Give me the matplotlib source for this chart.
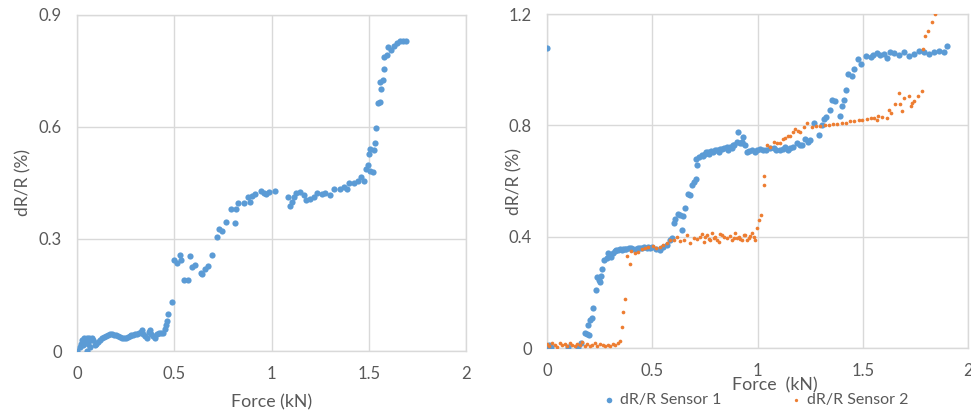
import matplotlib.pyplot as plt

plt.rcParams['font.family'] = ['Lato', 'DejaVu Sans']

blue = '#5B9BD5'
orange = '#ED7D31'
text_gray = '#595959'
grid_gray = '#D9D9D9'

#Left chart: single sensor
force_a = [0, 0.015, 0.02, 0.025, 0.03, 0.035, 0.04, 0.045, 0.05, 0.05, 0.055, 0.06, 0.065, 0.07,
           0.075, 0.08, 0.09, 0.1, 0.11, 0.12, 0.13, 0.14, 0.15, 0.16, 0.17, 0.18, 0.19, 0.2,
           0.21, 0.22, 0.23, 0.24, 0.25, 0.26, 0.27, 0.28, 0.29, 0.3, 0.31, 0.32, 0.33, 0.335,
           0.34, 0.35, 0.36, 0.37, 0.375, 0.38, 0.39, 0.4, 0.41, 0.42, 0.43, 0.44, 0.45, 0.46,
           0.465, 0.47, 0.487, 0.5, 0.515, 0.527, 0.537, 0.55, 0.57, 0.58, 0.59, 0.605, 0.635,
           0.645, 0.66, 0.675, 0.696, 0.72, 0.73, 0.745, 0.765, 0.79, 0.81, 0.818, 0.83, 0.857,
           0.878, 0.888, 0.9, 0.917, 0.946, 0.96, 0.97, 0.987, 1.018, 1.083, 1.095, 1.107, 1.117,
           1.128, 1.148, 1.165, 1.177, 1.2, 1.216, 1.233, 1.258, 1.276, 1.298, 1.32, 1.35, 1.37,
           1.387, 1.4, 1.425, 1.442, 1.459, 1.473, 1.487, 1.497, 1.507, 1.521, 1.503, 1.507,
           1.528, 1.533, 1.538, 1.545, 1.555, 1.558, 1.563, 1.572, 1.58, 1.58, 1.593, 1.598,
           1.613, 1.627, 1.644, 1.661, 1.678, 1.692]
drr_a = [0, 0.01, 0.02, 0.03, 0.015, 0.035, 0.025, 0.03, 0.035, 0.0, 0.02, 0.035, 0.01, 0.03,
         0.035, 0.03, 0.015, 0.02, 0.025, 0.03, 0.035, 0.038, 0.04, 0.042, 0.045, 0.045, 0.043,
         0.042, 0.04, 0.038, 0.036, 0.035, 0.036, 0.038, 0.04, 0.042, 0.043, 0.045, 0.045,
         0.047, 0.05, 0.055, 0.045, 0.04, 0.035, 0.05, 0.055, 0.045, 0.04, 0.035, 0.045, 0.048,
         0.048, 0.048, 0.06, 0.07, 0.08, 0.1, 0.13, 0.245, 0.235, 0.257, 0.245, 0.19, 0.19,
         0.255, 0.225, 0.23, 0.21, 0.205, 0.22, 0.228, 0.256, 0.306, 0.328, 0.322, 0.346, 0.38,
         0.342, 0.38, 0.395, 0.395, 0.413, 0.4, 0.415, 0.42, 0.428, 0.424, 0.42, 0.425, 0.428,
         0.412, 0.388, 0.4, 0.413, 0.424, 0.425, 0.418, 0.404, 0.406, 0.413, 0.424, 0.42, 0.424,
         0.418, 0.433, 0.433, 0.438, 0.435, 0.45, 0.45, 0.454, 0.467, 0.455, 0.487, 0.497,
         0.483, 0.478, 0.528, 0.54, 0.538, 0.558, 0.596, 0.663, 0.667, 0.721, 0.702, 0.726,
         0.754, 0.788, 0.793, 0.815, 0.806, 0.817, 0.824, 0.829, 0.829, 0.829]

#Right chart: sensor 1
force_s1 = [0, 0, 0.006, 0.01, 0.02, 0.1, 0.149, 0.163, 0.181, 0.189, 0.197, 0.2, 0.205, 0.213,
            0.221, 0.232, 0.238, 0.248, 0.252, 0.255, 0.262, 0.27, 0.283, 0.29, 0.306, 0.314,
            0.322, 0.33, 0.338, 0.345, 0.354, 0.36, 0.37, 0.377, 0.39, 0.4, 0.41, 0.425, 0.43,
            0.44, 0.45, 0.46, 0.473, 0.48, 0.49, 0.497, 0.52, 0.535, 0.552, 0.568, 0.584, 0.596,
            0.604, 0.61, 0.62, 0.631, 0.64, 0.647, 0.656, 0.67, 0.679, 0.687, 0.698, 0.707,
            0.714, 0.71, 0.723, 0.734, 0.74, 0.75, 0.755, 0.766, 0.77, 0.78, 0.79, 0.8, 0.807,
            0.815, 0.82, 0.83, 0.84, 0.855, 0.86, 0.87, 0.88, 0.885, 0.89, 0.902, 0.907, 0.917,
            0.925, 0.926, 0.933, 0.94, 0.95, 0.96, 0.975, 0.99, 0.998, 1.01, 1.025, 1.04, 1.061,
            1.077, 1.09, 1.108, 1.12, 1.132, 1.145, 1.156, 1.17, 1.188, 1.2, 1.212, 1.227, 1.24,
            1.251, 1.267, 1.291, 1.307, 1.315, 1.323, 1.346, 1.354, 1.37, 1.39, 1.402, 1.41,
            1.418, 1.429, 1.45, 1.458, 1.477, 1.492, 1.513, 1.537, 1.55, 1.568, 1.584, 1.6,
            1.616, 1.63, 1.647, 1.671, 1.695, 1.719, 1.743, 1.766, 1.79, 1.814, 1.838, 1.861,
            1.885, 1.898]
drr_s1 = [1.079, 0.005, 0.0, 0.01, 0.005, 0.005, 0.005, 0.02, 0.053, 0.05, 0.083, 0.048, 0.1,
          0.11, 0.143, 0.209, 0.255, 0.243, 0.238, 0.26, 0.285, 0.318, 0.324, 0.343, 0.327,
          0.34, 0.349, 0.352, 0.354, 0.356, 0.354, 0.357, 0.355, 0.357, 0.358, 0.36, 0.356,
          0.357, 0.36, 0.358, 0.36, 0.362, 0.36, 0.363, 0.361, 0.363, 0.357, 0.351, 0.363,
          0.369, 0.39, 0.397, 0.45, 0.465, 0.483, 0.477, 0.426, 0.475, 0.505, 0.555, 0.551,
          0.585, 0.597, 0.609, 0.657, 0.681, 0.685, 0.693, 0.69, 0.699, 0.703, 0.705, 0.697,
          0.708, 0.703, 0.71, 0.712, 0.705, 0.716, 0.715, 0.72, 0.724, 0.712, 0.722, 0.72,
          0.728, 0.73, 0.742, 0.778, 0.735, 0.741, 0.736, 0.757, 0.73, 0.706, 0.708, 0.71,
          0.706, 0.712, 0.714, 0.71, 0.712, 0.718, 0.718, 0.712, 0.712, 0.716, 0.722, 0.71,
          0.718, 0.722, 0.736, 0.728, 0.73, 0.75, 0.742, 0.748, 0.81, 0.766, 0.802, 0.822,
          0.83, 0.856, 0.892, 0.886, 0.835, 0.871, 0.89, 0.928, 0.986, 0.978, 1.002, 1.038,
          1.022, 1.05, 1.046, 1.052, 1.06, 1.054, 1.058, 1.042, 1.062, 1.06, 1.054, 1.062,
          1.048, 1.056, 1.066, 1.062, 1.058, 1.062, 1.066, 1.062, 1.084]

#Right chart: sensor 2
force_s2 = [0, 0.012, 0.024, 0.036, 0.048, 0.06, 0.072, 0.084, 0.096, 0.108, 0.12, 0.132,
            0.144, 0.156, 0.168, 0.18, 0.192, 0.204, 0.216, 0.228, 0.24, 0.252, 0.264, 0.276,
            0.288, 0.3, 0.312, 0.324, 0.336, 0.348, 0.358, 0.362, 0.37, 0.378, 0.393, 0.401,
            0.417, 0.433, 0.449, 0.465, 0.481, 0.504, 0.52, 0.538, 0.552, 0.569, 0.585, 0.601,
            0.617, 0.633, 0.649, 0.665, 0.68, 0.696, 0.712, 0.728, 0.736, 0.744, 0.752, 0.76,
            0.768, 0.775, 0.783, 0.791, 0.799, 0.807, 0.815, 0.823, 0.831, 0.843, 0.855, 0.867,
            0.879, 0.887, 0.894, 0.902, 0.91, 0.918, 0.926, 0.934, 0.942, 0.95, 0.958, 0.966,
            0.974, 0.982, 0.99, 0.998, 1.005, 1.017, 1.029, 1.032, 1.045, 1.06, 1.077, 1.092,
            1.108, 1.12, 1.132, 1.144, 1.156, 1.168, 1.18, 1.192, 1.204, 1.22, 1.235, 1.259,
            1.28, 1.299, 1.32, 1.338, 1.36, 1.378, 1.4, 1.418, 1.44, 1.457, 1.48, 1.497, 1.52,
            1.537, 1.555, 1.568, 1.571, 1.59, 1.616, 1.624, 1.632, 1.651, 1.671, 1.676, 1.684,
            1.698, 1.719, 1.727, 1.735, 1.743, 1.763, 1.782, 1.786, 1.794, 1.81, 1.829, 1.845]
drr_s2 = [0.015, 0.008, 0.02, 0.012, 0.005, 0.018, 0.01, 0.015, 0.008, 0.02, 0.012, 0.006,
          0.015, 0.01, 0.022, 0.008, 0.014, 0.006, 0.012, 0.018, 0.008, 0.015, 0.01, 0.006,
          0.012, 0.008, 0.016, 0.01, 0.02, 0.025, 0.075, 0.13, 0.175, 0.33, 0.303, 0.349,
          0.34, 0.345, 0.357, 0.361, 0.363, 0.366, 0.361, 0.364, 0.369, 0.377, 0.388, 0.388,
          0.4, 0.383, 0.388, 0.405, 0.377, 0.395, 0.392, 0.4, 0.41, 0.382, 0.398, 0.406,
          0.392, 0.388, 0.415, 0.396, 0.4, 0.39, 0.382, 0.41, 0.406, 0.398, 0.395, 0.402,
          0.388, 0.394, 0.412, 0.396, 0.4, 0.392, 0.388, 0.408, 0.406, 0.39, 0.395, 0.404,
          0.412, 0.398, 0.388, 0.43, 0.46, 0.478, 0.586, 0.618, 0.73, 0.723, 0.742, 0.738,
          0.736, 0.75, 0.754, 0.762, 0.763, 0.776, 0.786, 0.78, 0.778, 0.795, 0.81, 0.794,
          0.796, 0.796, 0.8, 0.802, 0.805, 0.806, 0.808, 0.81, 0.815, 0.817, 0.818, 0.82,
          0.822, 0.826, 0.828, 0.818, 0.835, 0.83, 0.826, 0.856, 0.846, 0.878, 0.916, 0.878,
          0.85, 0.898, 0.904, 0.868, 0.882, 0.888, 0.904, 0.922, 1.076, 1.122, 1.138, 1.173,
          1.2]

fig = plt.figure(figsize=(9.71, 4.12), dpi=100)
ax1 = fig.add_axes([0.0793, 0.148, 0.4007, 0.816])
ax2 = fig.add_axes([0.5633, 0.155, 0.4337, 0.811])

ax1.scatter(force_a, drr_a, s=20, color=blue, linewidths=0, zorder=3)
ax2.scatter(force_s1, drr_s1, s=20, color=blue, linewidths=0, zorder=3, label='dR/R Sensor 1')
ax2.scatter(force_s2, drr_s2, s=7, color=orange, linewidths=0, zorder=3, label='dR/R Sensor 2')

ax1.set_xlim(0, 2)
ax1.set_ylim(0, 0.9)
ax1.set_xticks([0, 0.5, 1, 1.5, 2])
ax1.set_xticklabels(['0', '0.5', '1', '1.5', '2'])
ax1.set_yticks([0, 0.3, 0.6, 0.9])
ax1.set_yticklabels(['0', '0.3', '0.6', '0.9'])

ax2.set_xlim(0, 2)
ax2.set_ylim(0, 1.2)
ax2.set_xticks([0, 0.5, 1, 1.5, 2])
ax2.set_xticklabels(['0', '0.5', '1', '1.5', '2'])
ax2.set_yticks([0, 0.4, 0.8, 1.2])
ax2.set_yticklabels(['0', '0.4', '0.8', '1.2'])

for ax in (ax1, ax2):
    ax.grid(True, color=grid_gray, linewidth=1)
    ax.set_axisbelow(True)
    for sp in ax.spines.values():
        sp.set_color(grid_gray)
        sp.set_linewidth(1)
    ax.tick_params(length=0, labelsize=12, labelcolor=text_gray)
    ax.tick_params(axis='x', pad=11)
    ax.tick_params(axis='y', pad=11)
    ax.set_ylabel('dR/R (%)', fontsize=12.5, color=text_gray)

ax1.set_xlabel('Force (kN)', fontsize=12.8, color=text_gray)
ax2.set_xlabel('Force  (kN)', fontsize=12.8, color=text_gray)

#label positions (top edge for x labels, right edge for y labels)
ax1.xaxis.set_label_coords(0.5, -0.128)
ax1.yaxis.set_label_coords(-0.118, 0.5)
ax2.xaxis.set_label_coords(0.541, -0.088)
ax2.yaxis.set_label_coords(-0.059, 0.5)

ax2.legend(loc='center', bbox_to_anchor=(0.779, 0.03), bbox_transform=fig.transFigure,
           ncol=2, frameon=False, fontsize=11.5, markerscale=0.9, handlelength=0.6,
           handletextpad=0.4, columnspacing=4.4, labelcolor=text_gray, borderaxespad=0)

plt.savefig('out.png')
